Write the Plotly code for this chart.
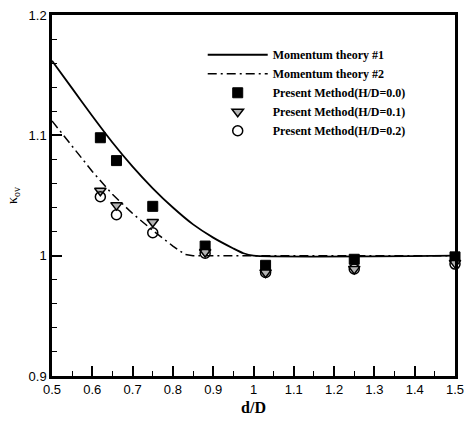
import plotly.graph_objects as go

# Momentum theory curves
theory1_x = [0.5, 0.55, 0.6, 0.65, 0.7, 0.75, 0.8, 0.85, 0.9, 0.95, 0.975, 1.0, 1.5]
theory1_y = [1.162, 1.139, 1.116, 1.094, 1.074, 1.056, 1.040, 1.026, 1.015, 1.006, 1.002, 1.0, 1.0]

theory2_x = [0.5, 0.55, 0.6, 0.65, 0.7, 0.75, 0.8, 0.83, 0.85, 1.5]
theory2_y = [1.112, 1.091, 1.070, 1.051, 1.035, 1.021, 1.008, 1.001, 1.0, 1.0]

# Present method
pts_x = [0.62, 0.66, 0.75, 0.88, 1.03, 1.25, 1.5]
hd00 = [1.098, 1.079, 1.041, 1.008, 0.992, 0.997, 0.999]
hd01 = [1.054, 1.042, 1.028, 1.003, 0.986, 0.989, 0.994]
hd02 = [1.049, 1.034, 1.019, 1.002, 0.986, 0.989, 0.993]

fig = go.Figure()
fig.add_trace(go.Scatter(x=theory1_x, y=theory1_y, mode="lines", name="Momentum theory #1",
                         line=dict(color="black", width=1.8, shape="spline", smoothing=0.6)))
fig.add_trace(go.Scatter(x=theory2_x, y=theory2_y, mode="lines", name="Momentum theory #2",
                         line=dict(color="black", width=1.5, dash="9px,4px,2px,4px")))
fig.add_trace(go.Scatter(x=pts_x, y=hd00, mode="markers", name="Present Method(H/D=0.0)",
                         cliponaxis=False,
                         marker=dict(symbol="square", size=10, color="black",
                                     line=dict(color="black", width=1))))
fig.add_trace(go.Scatter(x=pts_x, y=hd01, mode="markers", name="Present Method(H/D=0.1)",
                         cliponaxis=False,
                         marker=dict(symbol="triangle-down", size=10, color="#b4b4b4",
                                     line=dict(color="black", width=1.5))))
fig.add_trace(go.Scatter(x=pts_x, y=hd02, mode="markers", name="Present Method(H/D=0.2)",
                         cliponaxis=False,
                         marker=dict(symbol="circle-open", size=10, color="black",
                                     line=dict(color="black", width=1.5))))

tick_font = dict(family="Liberation Sans, Arial", size=13, color="black")

fig.update_layout(
    width=472, height=423,
    margin=dict(l=52, r=8, t=15, b=35),
    paper_bgcolor="white", plot_bgcolor="white",
    showlegend=True,
    xaxis=dict(
        range=[0.5, 1.5], tick0=0.5, dtick=0.1,
        showgrid=False, zeroline=False, showline=True, linecolor="black", linewidth=2.5,
        mirror=True, ticks="inside", ticklen=10, tickwidth=2, tickcolor="#000000",
        tickfont=tick_font,
        minor=dict(ticks="inside", ticklen=5, tickwidth=1.2, tickcolor="#000000", dtick=0.05),
        title=dict(text="<b>d/D</b>",
                   font=dict(family="Liberation Serif, Times New Roman", size=16, color="black"),
                   standoff=6),
    ),
    yaxis=dict(
        range=[0.9, 1.2], tick0=0.9, dtick=0.1,
        showgrid=False, zeroline=False, showline=True, linecolor="black", linewidth=2.5,
        mirror=True, ticks="inside", ticklen=10, tickwidth=2, tickcolor="#000000",
        tickfont=tick_font,
        minor=dict(ticks="inside", ticklen=5, tickwidth=1.2, tickcolor="#000000", dtick=0.02),
        title=dict(text="κ<sub>ov</sub>",
                   font=dict(family="Liberation Serif, Times New Roman", size=14, color="black"),
                   standoff=8),
    ),
    legend=dict(x=0.374, y=0.93, xanchor="left", yanchor="top",
                bgcolor="rgba(0,0,0,0)", borderwidth=0,
                font=dict(family="Liberation Serif, Times New Roman", size=12,
                          color="black", weight="bold"),
                itemwidth=60, tracegroupgap=0),
)

fig.write_html("out.html")
